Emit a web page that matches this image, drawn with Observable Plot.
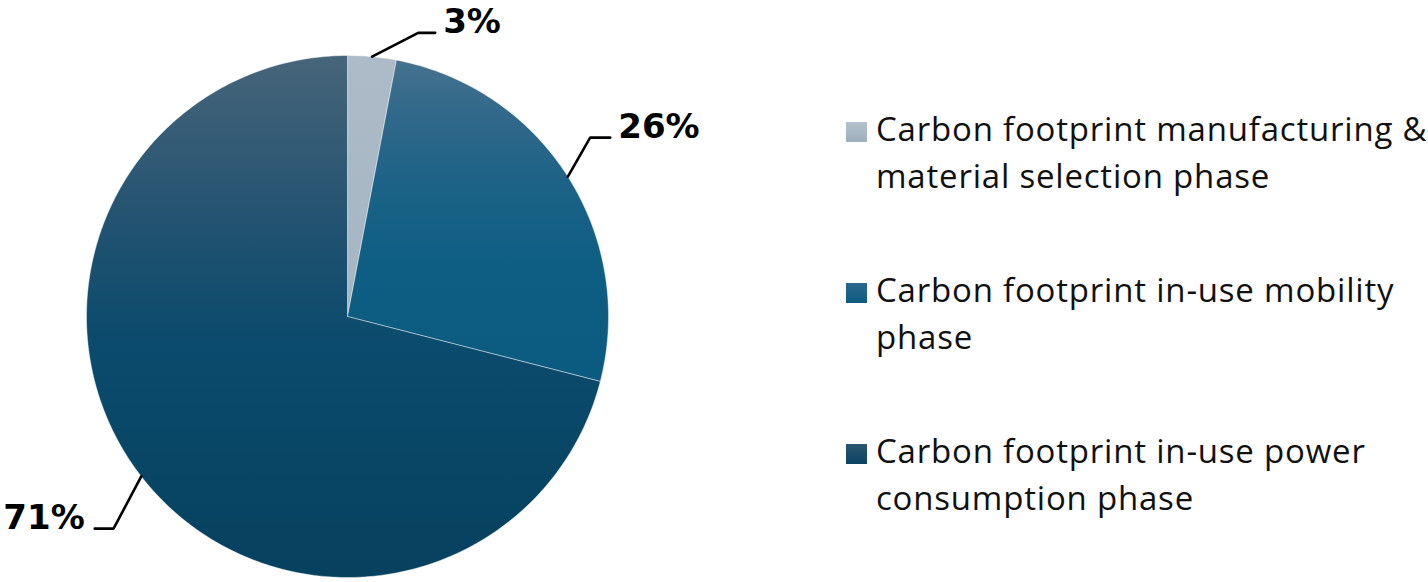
<!DOCTYPE html>
<html>
<head>
<meta charset="utf-8">
<script src="https://cdn.jsdelivr.net/npm/d3@7"></script>
<script src="https://cdn.jsdelivr.net/npm/@observablehq/plot@0.6"></script>
<style>
  html, body { margin: 0; padding: 0; background: #fff; }
  #wrap { position: relative; width: 1428px; height: 582px; overflow: hidden; }
  #chart { position: absolute; left: 0; top: 0; }
  .item { position: absolute; left: 846px; font-family: "Open Sans", sans-serif; font-size: 33px; letter-spacing: 0.8px; line-height: 47px; color: #111; white-space: pre; }
  .sw { position: absolute; left: 0; top: 17px; width: 21px; height: 20px; }
  .lbl { position: absolute; left: 30px; top: 0; }
</style>
</head>
<body>
<div id="wrap"><div id="chart"></div></div>
<script>
// ---- data ----
const categories = [
  "Carbon footprint manufacturing &\nmaterial selection phase",
  "Carbon footprint in-use mobility\nphase",
  "Carbon footprint in-use power\nconsumption phase"
];
const shares = [3, 26, 71];
const valueLabels = ["3%", "26%", "71%"];

// ---- styling config ----
const gradStops = [
  [[0, "#adbbc8"], [1, "#a6b5c2"]],
  [[0, "#46738f"], [0.15, "#33698a"], [0.4, "#1b6286"], [0.65, "#0e5e84"], [1, "#0b5a80"]],
  [[0, "#47657a"], [0.35, "#1f5170"], [0.55, "#0b4b6d"], [1, "#06415e"]]
];
const swatchCss = [
  "linear-gradient(#b3c1cc, #9eafbd)",
  "linear-gradient(#2a6a8e, #0f5a80)",
  "linear-gradient(#2a5672, #0b4362)"
];
// leader line geometry: elbow radius, elbow angle shift (deg), horizontal run (unit), side
const leaders = [
  {r: 1.12, shift: 8.6, run: 0.065, side: 1},
  {r: 1.155, shift: -4.0, run: 0.077, side: 1},
  {r: 1.21, shift: -4.4, run: 0.072, side: -1}
];

// ---- geometry from data ----
const total = d3.sum(shares);
let acc = 0;
const slices = shares.map((v, i) => {
  const a0 = acc / total * 2 * Math.PI;
  acc += v;
  const a1 = acc / total * 2 * Math.PI;
  return {i, a0, a1, mid: (a0 + a1) / 2};
});
const polar = (a, r) => ({x: r * Math.sin(a), y: r * Math.cos(a)});
const slicePts = slices.map(s => {
  const n = Math.max(2, Math.ceil((s.a1 - s.a0) / (Math.PI / 180)));
  const pts = [{x: 0, y: 0}];
  for (let k = 0; k <= n; ++k) pts.push(polar(s.a0 + (s.a1 - s.a0) * k / n, 1));
  pts.push({x: 0, y: 0});
  return pts;
});
const leaderPts = slices.map((s, i) => {
  const L = leaders[i];
  const p0 = polar(s.mid, 1.0);
  const p1 = polar(s.mid + L.shift * Math.PI / 180, L.r);
  const p2 = {x: p1.x + L.side * L.run, y: p1.y};
  return [p0, p1, p2];
});
const labelData = slices.map((s, i) => ({
  x: leaderPts[i][2].x, y: leaderPts[i][2].y, text: valueLabels[i], side: leaders[i].side
}));

const defs = () => {
  const d = d3.create("svg:defs");
  gradStops.forEach((stops, i) => {
    const g = d.append("linearGradient").attr("id", "g" + i)
      .attr("x1", 0).attr("y1", 0).attr("x2", 0).attr("y2", 1);
    stops.forEach(([o, c]) => g.append("stop").attr("offset", o).attr("stop-color", c));
  });
  return d.node();
};

const marks = [defs];
slicePts.forEach((pts, i) => {
  marks.push(Plot.line(pts, {x: "x", y: "y", fill: `url(#g${i})`, stroke: "#ffffff", strokeWidth: 0.7, strokeOpacity: 0.6}));
});
leaderPts.forEach(pts => {
  marks.push(Plot.line(pts, {x: "x", y: "y", stroke: "#000", strokeWidth: 2.6, strokeLinejoin: "miter"}));
});
marks.push(Plot.text(labelData.filter(d => d.side > 0), {
  x: "x", y: "y", text: "text", textAnchor: "start", dx: 8, dy: -11,
  fontSize: 34, fontWeight: "bold", fontFamily: "DejaVu Sans", fill: "#000"
}));
marks.push(Plot.text(labelData.filter(d => d.side < 0), {
  x: "x", y: "y", text: "text", textAnchor: "end", dx: -10, dy: -11,
  fontSize: 34, fontWeight: "bold", fontFamily: "DejaVu Sans", fill: "#000"
}));

const chart = Plot.plot({
  width: 840,
  height: 582,
  marginLeft: 86,
  marginRight: 232,
  marginTop: 55,
  marginBottom: 5,
  x: {domain: [-1, 1], axis: null},
  y: {domain: [-1, 1], axis: null},
  style: {background: "transparent", overflow: "visible"},
  marks
});
document.getElementById("chart").appendChild(chart);

// ---- legend ----
const wrap = document.getElementById("wrap");
categories.forEach((c, i) => {
  const item = document.createElement("div");
  item.className = "item";
  item.style.top = (105 + i * 161) + "px";
  const sw = document.createElement("div");
  sw.className = "sw";
  sw.style.background = swatchCss[i];
  const lb = document.createElement("div");
  lb.className = "lbl";
  lb.textContent = c;
  item.appendChild(sw);
  item.appendChild(lb);
  wrap.appendChild(item);
});
</script>
</body>
</html>
